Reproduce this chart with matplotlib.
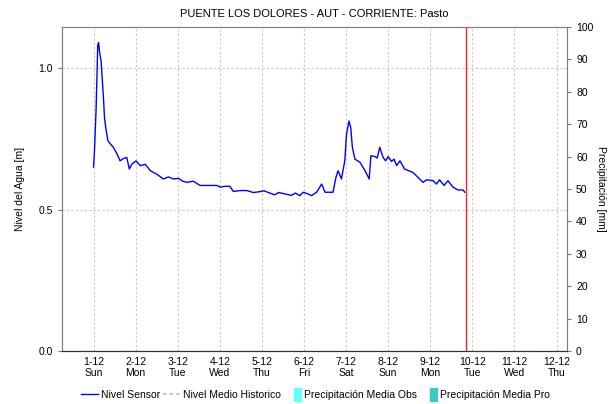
import matplotlib
matplotlib.use("Agg")
import matplotlib.pyplot as plt
from matplotlib.lines import Line2D
from matplotlib.patches import Patch, Rectangle
from matplotlib.legend_handler import HandlerPatch

plt.rcParams["font.family"] = ["Liberation Sans", "DejaVu Sans"]

# days since 1-12 00:00 and sensor level [m]
dias = [0.00, 0.02, 0.06, 0.10, 0.12, 0.14, 0.18, 0.21, 0.24, 0.26, 0.29, 0.34, 0.40,
        0.47, 0.56, 0.63, 0.71, 0.79, 0.85, 0.91, 1.01, 1.11, 1.23, 1.35, 1.50, 1.66,
        1.78, 1.90, 2.02, 2.12, 2.22, 2.37, 2.53, 2.70, 2.93, 3.01, 3.12, 3.24, 3.32,
        3.50, 3.64, 3.80, 3.95, 4.05, 4.19, 4.30, 4.40, 4.55, 4.70, 4.80, 4.90, 4.98,
        5.08, 5.18, 5.30, 5.42, 5.50, 5.69, 5.76, 5.81, 5.89, 5.97, 6.01, 6.07, 6.11,
        6.15, 6.21, 6.33, 6.45, 6.55, 6.59, 6.69, 6.74, 6.80, 6.88, 6.94, 7.00, 7.08,
        7.14, 7.20, 7.28, 7.39, 7.59, 7.70, 7.83, 7.91, 8.07, 8.15, 8.22, 8.33, 8.42,
        8.54, 8.66, 8.78, 8.82]
nivel = [0.650, 0.700, 0.850, 1.080, 1.090, 1.060, 1.025, 0.954, 0.884, 0.825, 0.790,
         0.743, 0.732, 0.720, 0.696, 0.672, 0.680, 0.684, 0.643, 0.660, 0.672, 0.655,
         0.660, 0.637, 0.625, 0.608, 0.615, 0.608, 0.610, 0.600, 0.596, 0.600, 0.585,
         0.585, 0.585, 0.579, 0.582, 0.582, 0.564, 0.567, 0.567, 0.560, 0.563, 0.566,
         0.558, 0.552, 0.560, 0.555, 0.550, 0.558, 0.549, 0.561, 0.556, 0.549, 0.561,
         0.590, 0.561, 0.561, 0.614, 0.637, 0.608, 0.672, 0.766, 0.813, 0.790, 0.720,
         0.678, 0.667, 0.637, 0.608, 0.690, 0.687, 0.682, 0.720, 0.684, 0.672, 0.687,
         0.670, 0.678, 0.655, 0.672, 0.643, 0.631, 0.615, 0.596, 0.605, 0.602, 0.590,
         0.605, 0.585, 0.602, 0.579, 0.569, 0.569, 0.561]

fechas = ["1-12", "2-12", "3-12", "4-12", "5-12", "6-12", "7-12", "8-12", "9-12",
          "10-12", "11-12", "12-12"]
semana = ["Sun", "Mon", "Tue", "Wed", "Thu", "Fri", "Sat", "Sun", "Mon", "Tue", "Wed", "Thu"]
ahora = 8.85  # red marker line

fig = plt.figure(figsize=(6.16, 4.04), dpi=100)
ax = fig.add_axes([0.1006, 0.1312, 0.8199, 0.802])
ax2 = ax.twinx()

ax.plot(dias, nivel, color="#0000FF", lw=1.0, zorder=3)
ax.axvline(ahora, color="#FF2020", lw=1.0, zorder=4)

ax.set_xlim(-0.75, 11.25)
ax.set_ylim(0, 1.145)

ax.set_xticks(range(len(fechas)))
ax.set_xticklabels([f"{d}\n{w}" for d, w in zip(fechas, semana)], fontsize=7.5)
ax.tick_params(axis="x", length=0, pad=4)
ax.set_yticks([0.0, 0.5, 1.0])
ax.set_yticklabels(["0.0", "0.5", "1.0"], fontsize=7.5)
ax.tick_params(axis="y", length=3, color="#777777", direction="out")

ax2.set_ylim(0, 100)
ax2.set_yticks(range(0, 101, 10))
ax2.tick_params(axis="y", length=3, color="#777777", labelsize=7.5)

ax.grid(True, color="#C8C8C8", ls=(0, (2, 2)), lw=0.8)
ax.set_axisbelow(True)

for a in (ax, ax2):
    for s in ("left", "right", "top"):
        a.spines[s].set_color("#808080")
    a.spines["bottom"].set_linestyle((0, (1, 1)))
    a.spines["bottom"].set_color("#333333")

ax.set_ylabel("Nivel del Agua [m]", fontsize=7.5, labelpad=10)
ax2.set_ylabel("Precipitación [mm]", fontsize=7.5, rotation=270, labelpad=9)
ax.set_title("PUENTE LOS DOLORES - AUT - CORRIENTE: Pasto", fontsize=8, pad=7)


def barra(legend, orig_handle, xdescent, ydescent, width, height, fontsize):
    return Rectangle((width - 5 - xdescent, -ydescent - 2), 5, height + 4)


handles = [Line2D([], [], color="#0000FF", lw=1.0),
           Line2D([], [], color="#BBBBBB", lw=1.2, ls=(0, (2, 2))),
           Patch(color="#66FFFF"),
           Patch(color="#40C8C8")]
labels = ["Nivel Sensor", "Nivel Medio Historico", "Precipitación Media Obs",
          "Precipitación Media Pro"]
fig.legend(handles, labels, loc="center", bbox_to_anchor=(0.512, 0.022), ncol=4,
           frameon=False, fontsize=7.5, handlelength=1.6, handletextpad=0.3,
           columnspacing=0.3,
           handler_map={Patch: HandlerPatch(patch_func=barra)})

fig.savefig("out.png", dpi=100)
